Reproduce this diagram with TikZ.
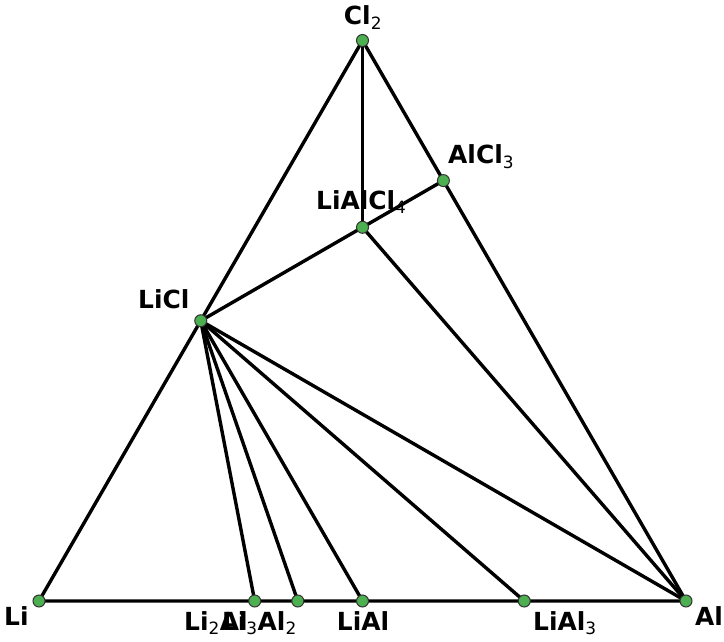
\documentclass[tikz,border=0pt]{standalone}
\usepackage{fontspec}
\setmainfont{DejaVu Sans}
\newcommand\chsub[1]{\textsubscript{\normalfont\fontsize{17}{20}\selectfont #1}}
\definecolor{dotgreen}{RGB}{76,175,80}
\tikzset{
  pt/.style={circle,fill=dotgreen,draw=black!80,line width=1bp,inner sep=0pt,minimum size=12bp},
  edge/.style={line width=3.4bp,draw=black},
  lab/.style={font=\fontsize{25}{30}\selectfont\bfseries,inner sep=0pt}
}
\begin{document}
\begin{tikzpicture}[x=1bp,y=-1bp]
\useasboundingbox (0,0) rectangle (724,642);
\coordinate (Li) at (39,601);
\coordinate (Al) at (686,601);
\coordinate (Cl) at (362.5,40.5);
\coordinate (LiCl) at (200.75,320.75);
\coordinate (AlCl3) at (443.4,180.6);
\coordinate (LiAlCl4) at (362.5,227.3);
\coordinate (Li2Al) at (254.7,601);
\coordinate (Li3Al2) at (297.8,601);
\coordinate (LiAl) at (362.5,601);
\coordinate (LiAl3) at (524.25,601);
% edges
\draw[edge] (Li) -- (Al) -- (Cl) -- cycle;
\draw[edge] (Cl) -- (LiAlCl4);
\draw[edge] (LiCl) -- (LiAlCl4) -- (AlCl3);
\draw[edge] (LiAlCl4) -- (Al);
\draw[edge] (LiCl) -- (Li2Al);
\draw[edge] (LiCl) -- (Li3Al2);
\draw[edge] (LiCl) -- (LiAl);
\draw[edge] (LiCl) -- (LiAl3);
\draw[edge] (LiCl) -- (Al);
% points
\foreach \p in {Li,Al,Cl,LiCl,AlCl3,LiAlCl4,Li2Al,Li3Al2,LiAl,LiAl3}
  \node[pt] (n\p) at (\p) {};
% labels
\node[lab,anchor=base] (tCl) at (363,25) {Cl\chsub{2}};
\node[lab,anchor=base west] (tAlCl3) at (448,164) {AlCl\chsub{3}};
\node[lab,anchor=base west] (tLiAlCl4) at (316,210) {LiAlCl\chsub{4}};
\node[lab,anchor=base west] (tLiCl) at (138,308) {LiCl};
\node[lab,anchor=base west] (tLi) at (4,625) {Li};
\node[lab,anchor=base west] (tAl) at (695,625) {Al};
\node[lab,anchor=base] (tLiAl) at (363,630) {LiAl};
\node[lab,anchor=base west] (tLiAl3) at (533,630) {LiAl\chsub{3}};
\node[lab,anchor=base west] (tLi2Al) at (184,630) {Li\chsub{2}Al};
\node[lab,anchor=base east] (tLi3Al2) at (297,630) {Li\chsub{3}Al\chsub{2}};
\end{tikzpicture}
\end{document}
